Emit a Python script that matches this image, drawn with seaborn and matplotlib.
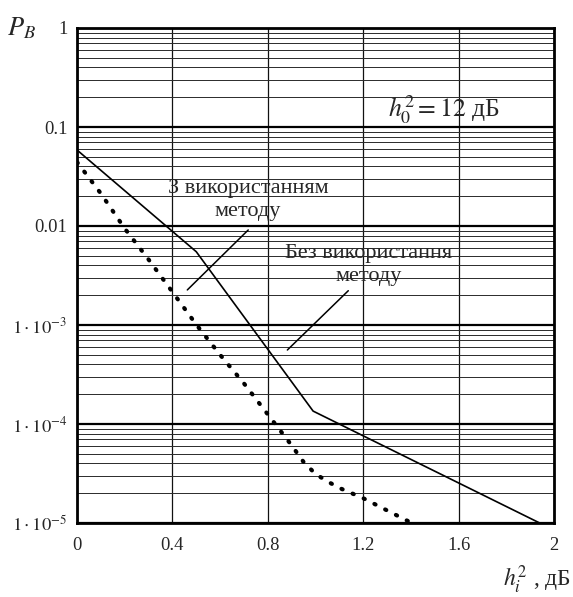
import matplotlib
matplotlib.use("Agg")
import matplotlib.pyplot as plt
import seaborn as sns
import numpy as np
from matplotlib.ticker import FixedLocator, LogLocator, NullFormatter

# ---- data ----
x_without = [0.0, 0.5, 0.99, 1.94]
p_without = [0.0586, 0.0055, 1.35e-4, 1.0e-5]

x_with = [0.0, 0.1, 0.2, 0.3, 0.4, 0.5, 0.6, 0.7, 0.8, 0.9, 0.95, 1.0, 1.05, 1.1, 1.2, 1.3, 1.4]
p_with = [0.0443, 0.0213, 0.00944, 0.00459, 0.00216, 1.01e-3, 5.0e-4, 2.57e-4,
          1.25e-4, 6.08e-5, 4.13e-5, 3.13e-5, 2.63e-5, 2.26e-5, 1.78e-5, 1.34e-5, 1.01e-5]

x_ticks = [0, 0.4, 0.8, 1.2, 1.6, 2.0]
x_tick_labels = ["0", "0.4", "0.8", "1.2", "1.6", "2"]
y_ticks = [1, 0.1, 0.01, 1e-3, 1e-4, 1e-5]
y_tick_labels = ["1", "0.1", "0.01", r"$1\cdot10^{-3}$", r"$1\cdot10^{-4}$", r"$1\cdot10^{-5}$"]

label_with = ["З використанням", "методу"]
label_without = ["Без використання", "методу"]

sns.set_style("white")
plt.rcParams['font.family'] = ['Liberation Serif', 'DejaVu Serif']
plt.rcParams['mathtext.fontset'] = 'stix'

fig = plt.figure(figsize=(5.73, 5.97), dpi=100)
ax = fig.add_axes([77/573, 1-523/597, (554-77)/573, (523-28)/597])

ax.set_yscale('log')
ax.set_xlim(0, 2)
ax.set_ylim(1e-5, 1)

# grid
ax.yaxis.set_major_locator(FixedLocator(y_ticks))
ax.yaxis.set_minor_locator(LogLocator(base=10, subs=np.arange(2, 10), numticks=50))
ax.yaxis.set_minor_formatter(NullFormatter())
ax.set_yticks(y_ticks)
ax.set_yticklabels(y_tick_labels)
ax.set_xticks(x_ticks)
ax.set_xticklabels(x_tick_labels)
ax.grid(True, which='major', axis='y', color='black', lw=1.6)
ax.grid(True, which='minor', axis='y', color='#2a2a2a', lw=0.7)
ax.grid(True, which='major', axis='x', color='#111111', lw=0.9)
ax.tick_params(axis='both', which='both', length=0, labelsize=13.3)
ax.tick_params(axis='x', pad=10)
ax.tick_params(axis='y', pad=7)
for s in ax.spines.values():
    s.set_color('black')
    s.set_linewidth(2.0)
    s.set_visible(True)
ax.set_axisbelow(True)

sns.lineplot(x=x_without, y=p_without, ax=ax, color='black', lw=1.2, sort=False)
sns.lineplot(x=x_with, y=p_with, ax=ax, color='black', lw=3.0, sort=False,
             linestyle=(0, (0.3, 2.6)), dash_capstyle='round', clip_on=True)

ax.set_xlabel("")
ax.set_ylabel("")

# annotation pointer lines
ax.annotate("", xy=(0.4625, 2.26e-3), xytext=(0.718, 9.12e-3),
            arrowprops=dict(arrowstyle='-', color='black', lw=1.1, shrinkA=0, shrinkB=0))
ax.annotate("", xy=(0.882, 5.59e-4), xytext=(1.1375, 2.22e-3),
            arrowprops=dict(arrowstyle='-', color='black', lw=1.1, shrinkA=0, shrinkB=0))

fs = 16
ax.text(0.717, 0.0183, "\n".join(label_with), ha='center', va='center',
        fontsize=fs, linespacing=1.3)
ax.text(1.224, 4.04e-3, "\n".join(label_without), ha='center', va='center',
        fontsize=fs, linespacing=1.3)
ax.text(1.304, 0.1485, r"$h_0^2=12$ дБ", ha='left', va='center', fontsize=18.5)

fig.text(21/573, 1-28/597, r"$P_B$", ha='center', va='center', fontsize=19)
fig.text(503/573, 1-580/597, r"$h_i^2$ , дБ", ha='left', va='center', fontsize=17)

fig.savefig("out.png", dpi=100)
